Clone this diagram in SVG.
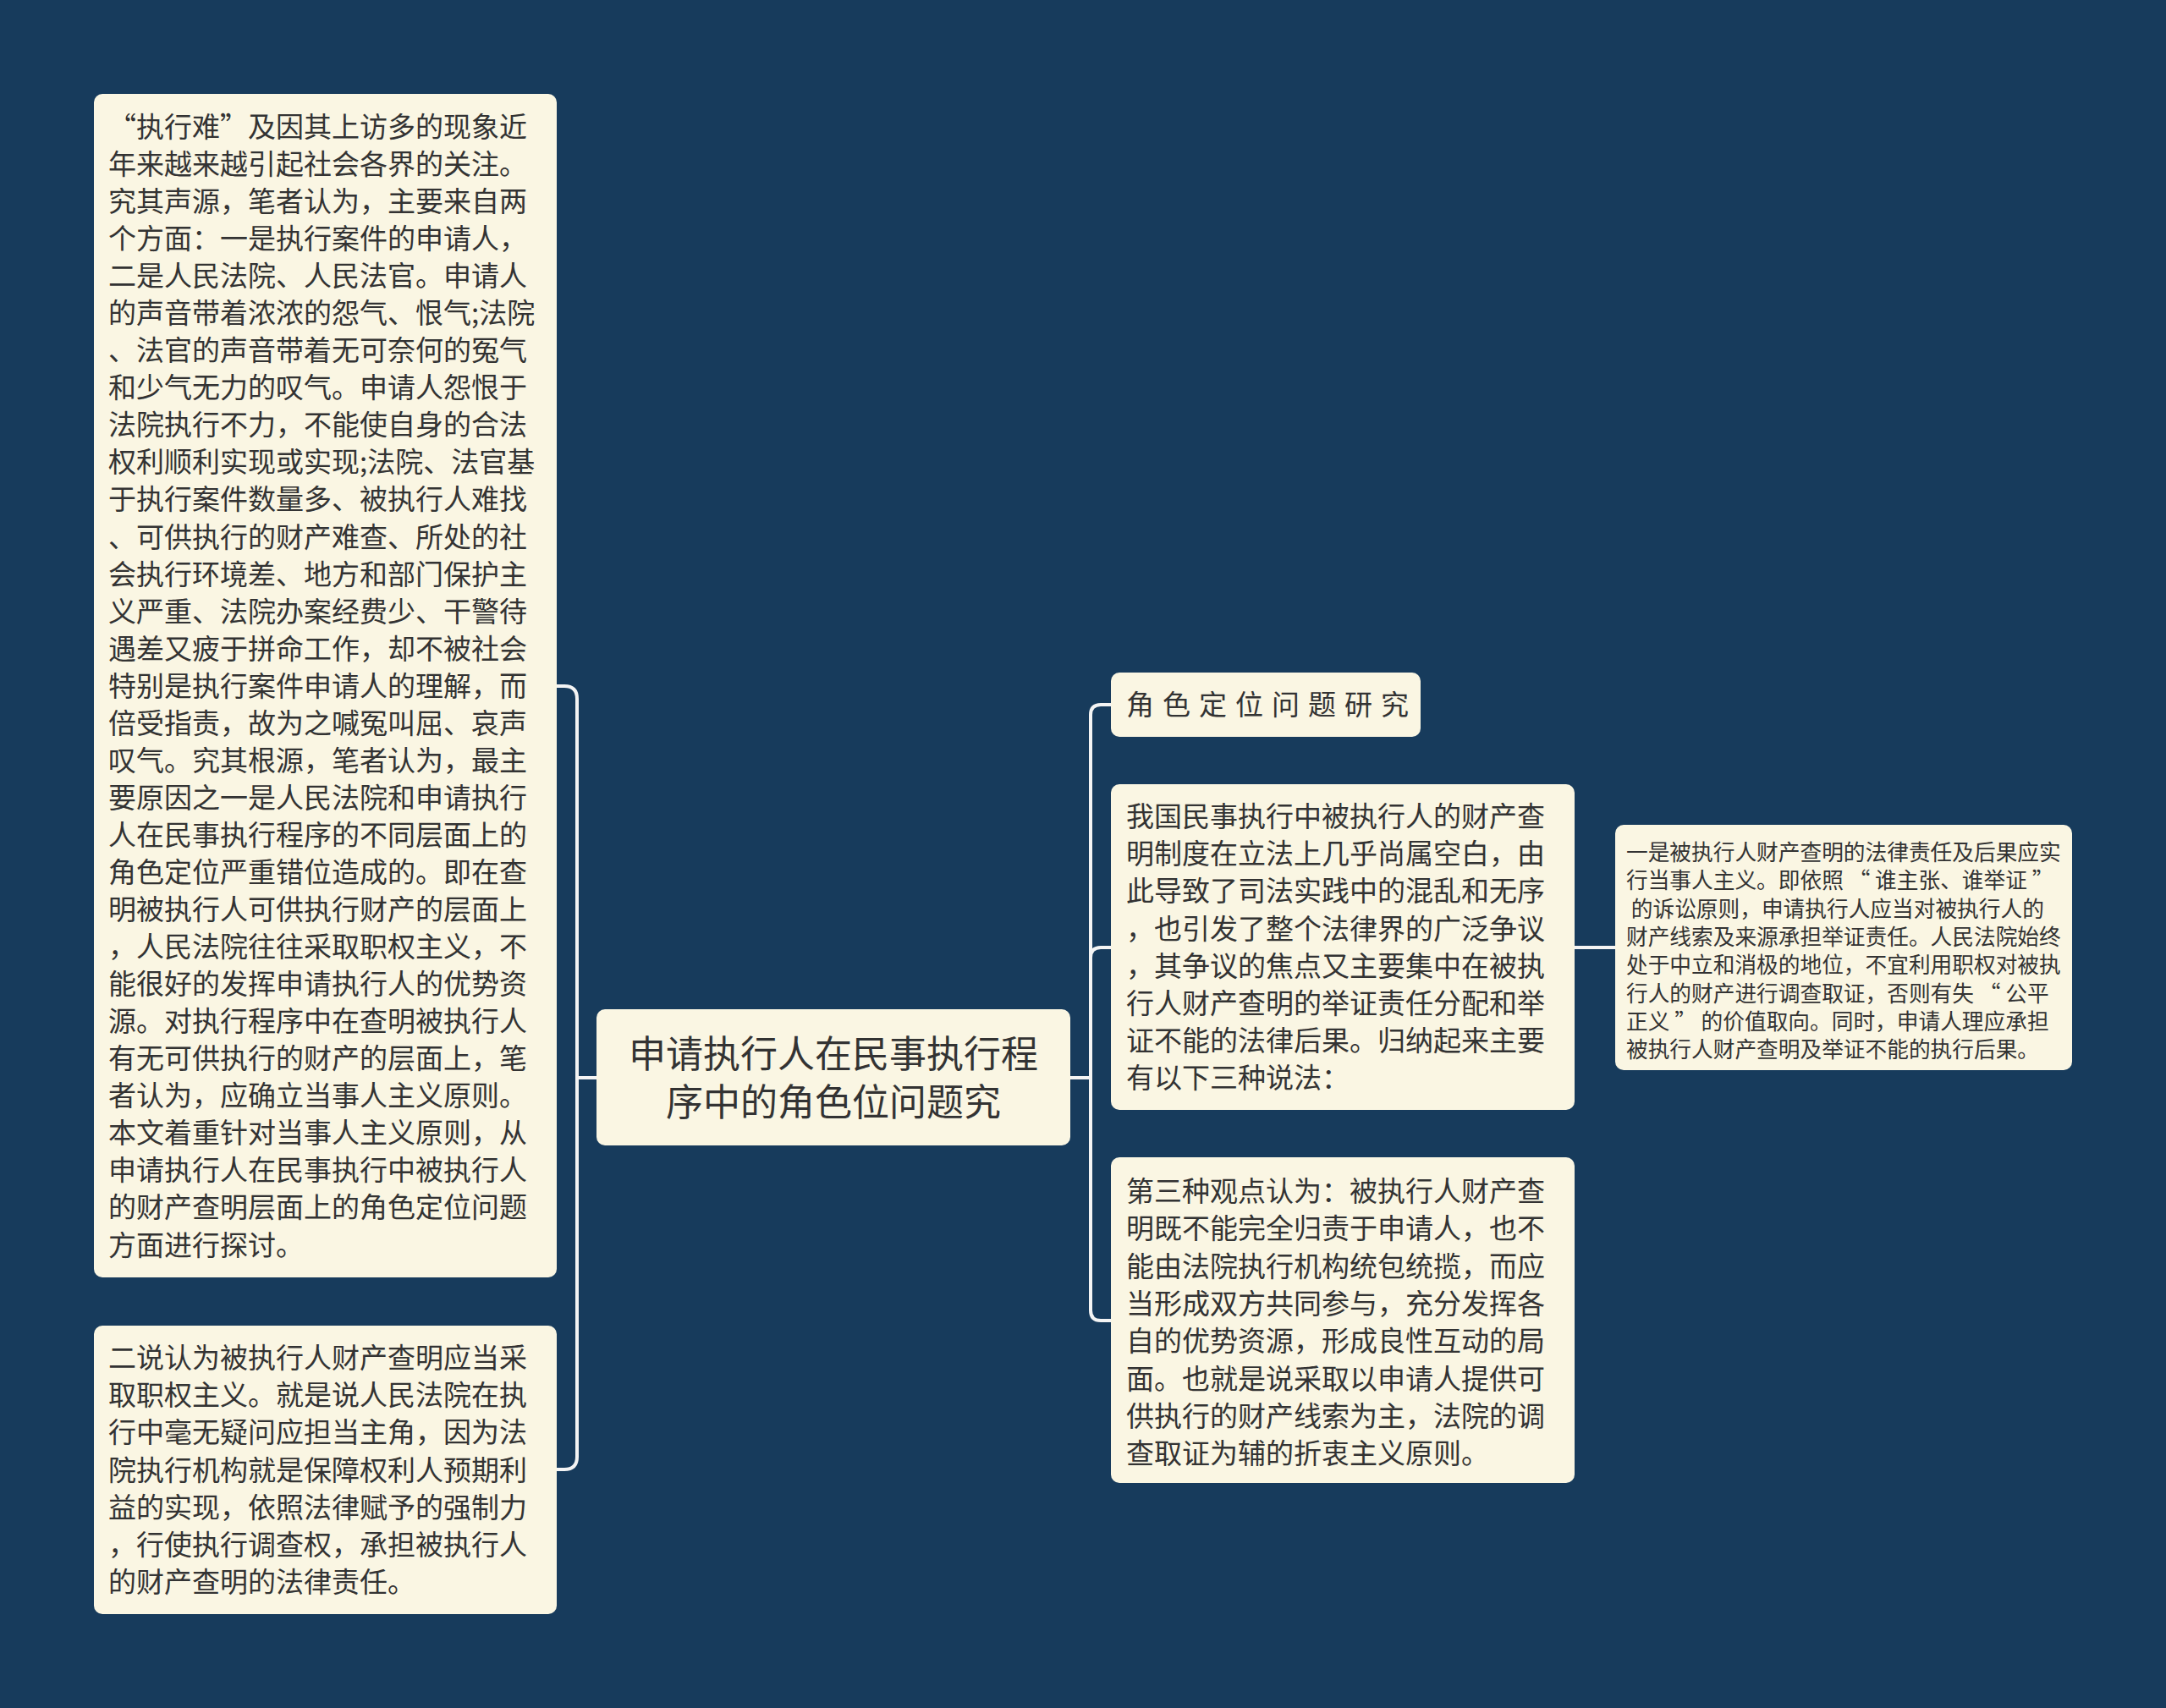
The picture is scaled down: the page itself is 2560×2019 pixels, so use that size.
<svg xmlns="http://www.w3.org/2000/svg" width="2560" height="2019" viewBox="0 0 2560 2019">
<style>
.bg{fill:#173b5c}
.box{fill:#faf6e3}
.t{font-family:"Noto Sans CJK SC","Noto Sans CJK TC",sans-serif;fill:#333333}
.t33{font-size:33px}
.t26{font-size:25.7px}
.t44{font-size:44px}
.link{fill:none;stroke:#f4f4f4;stroke-width:4;stroke-linecap:round}
</style>
<rect class="bg" x="0" y="0" width="2560" height="2019"/>
<g id="connectors">
<path class="link" d="M705,1274 H682"/>
<path class="link" d="M682,1274 V826 Q682,811 667,811 H658"/>
<path class="link" d="M682,1274 V1722 Q682,1737 667,1737 H658"/>
<path class="link" d="M1265,1274 H1289"/>
<path class="link" d="M1289,1274 V845 Q1289,833 1301,833 H1313"/>
<path class="link" d="M1289,1274 V1132 Q1289,1120 1301,1120 H1313"/>
<path class="link" d="M1289,1274 V1549 Q1289,1561 1301,1561 H1313"/>
<path class="link" d="M1861,1120 H1909"/>
</g>
<g id="root">
<rect class="box" x="705" y="1193" width="560" height="161" rx="10"/>
<text class="t t44" text-anchor="middle"><tspan x="985" y="1262">申请执行人在民事执行程</tspan><tspan x="985" y="1319">序中的角色位问题究</tspan></text>
</g>
<g id="left-main">
<rect class="box" x="111" y="111" width="547" height="1399" rx="10"/>
<text class="t t33" xml:space="preserve"><tspan x="128" y="162">“执行难”及因其上访多的现象近</tspan><tspan x="128" dy="44.05">年来越来越引起社会各界的关注。</tspan><tspan x="128" dy="44.05">究其声源，笔者认为，主要来自两</tspan><tspan x="128" dy="44.05">个方面：一是执行案件的申请人，</tspan><tspan x="128" dy="44.05">二是人民法院、人民法官。申请人</tspan><tspan x="128" dy="44.05">的声音带着浓浓的怨气、恨气;法院</tspan><tspan x="128" dy="44.05">、法官的声音带着无可奈何的冤气</tspan><tspan x="128" dy="44.05">和少气无力的叹气。申请人怨恨于</tspan><tspan x="128" dy="44.05">法院执行不力，不能使自身的合法</tspan><tspan x="128" dy="44.05">权利顺利实现或实现;法院、法官基</tspan><tspan x="128" dy="44.05">于执行案件数量多、被执行人难找</tspan><tspan x="128" dy="44.05">、可供执行的财产难查、所处的社</tspan><tspan x="128" dy="44.05">会执行环境差、地方和部门保护主</tspan><tspan x="128" dy="44.05">义严重、法院办案经费少、干警待</tspan><tspan x="128" dy="44.05">遇差又疲于拼命工作，却不被社会</tspan><tspan x="128" dy="44.05">特别是执行案件申请人的理解，而</tspan><tspan x="128" dy="44.05">倍受指责，故为之喊冤叫屈、哀声</tspan><tspan x="128" dy="44.05">叹气。究其根源，笔者认为，最主</tspan><tspan x="128" dy="44.05">要原因之一是人民法院和申请执行</tspan><tspan x="128" dy="44.05">人在民事执行程序的不同层面上的</tspan><tspan x="128" dy="44.05">角色定位严重错位造成的。即在查</tspan><tspan x="128" dy="44.05">明被执行人可供执行财产的层面上</tspan><tspan x="128" dy="44.05">，人民法院往往采取职权主义，不</tspan><tspan x="128" dy="44.05">能很好的发挥申请执行人的优势资</tspan><tspan x="128" dy="44.05">源。对执行程序中在查明被执行人</tspan><tspan x="128" dy="44.05">有无可供执行的财产的层面上，笔</tspan><tspan x="128" dy="44.05">者认为，应确立当事人主义原则。</tspan><tspan x="128" dy="44.05">本文着重针对当事人主义原则，从</tspan><tspan x="128" dy="44.05">申请执行人在民事执行中被执行人</tspan><tspan x="128" dy="44.05">的财产查明层面上的角色定位问题</tspan><tspan x="128" dy="44.05">方面进行探讨。</tspan></text>
</g>
<g id="left-second">
<rect class="box" x="111" y="1567" width="547" height="341" rx="10"/>
<text class="t t33"><tspan x="128" y="1617">二说认为被执行人财产查明应当采</tspan><tspan x="128" dy="44.2">取职权主义。就是说人民法院在执</tspan><tspan x="128" dy="44.2">行中毫无疑问应担当主角，因为法</tspan><tspan x="128" dy="44.2">院执行机构就是保障权利人预期利</tspan><tspan x="128" dy="44.2">益的实现，依照法律赋予的强制力</tspan><tspan x="128" dy="44.2">，行使执行调查权，承担被执行人</tspan><tspan x="128" dy="44.2">的财产查明的法律责任。</tspan></text>
</g>
<g id="right-title">
<rect class="box" x="1313" y="795" width="366" height="76" rx="10"/>
<text class="t t33" x="1331" y="845" xml:space="preserve" word-spacing="2.6">角 色 定 位 问 题 研 究</text>
</g>
<g id="right-first">
<rect class="box" x="1313" y="927" width="548" height="385" rx="10"/>
<text class="t t33"><tspan x="1331" y="977">我国民事执行中被执行人的财产查</tspan><tspan x="1331" dy="44.2">明制度在立法上几乎尚属空白，由</tspan><tspan x="1331" dy="44.2">此导致了司法实践中的混乱和无序</tspan><tspan x="1331" dy="44.2">，也引发了整个法律界的广泛争议</tspan><tspan x="1331" dy="44.2">，其争议的焦点又主要集中在被执</tspan><tspan x="1331" dy="44.2">行人财产查明的举证责任分配和举</tspan><tspan x="1331" dy="44.2">证不能的法律后果。归纳起来主要</tspan><tspan x="1331" dy="44.2">有以下三种说法：</tspan></text>
</g>
<g id="right-first-detail">
<rect class="box" x="1909" y="975" width="540" height="290" rx="10"/>
<text class="t t26" xml:space="preserve"><tspan x="1922" y="1017">一是被执行人财产查明的法律责任及后果应实</tspan><tspan x="1922" dy="33.3">行当事人主义。即依照 “ 谁主张、谁举证 ”</tspan><tspan x="1922" dy="33.3"> 的诉讼原则，申请执行人应当对被执行人的</tspan><tspan x="1922" dy="33.3">财产线索及来源承担举证责任。人民法院始终</tspan><tspan x="1922" dy="33.3">处于中立和消极的地位，不宜利用职权对被执</tspan><tspan x="1922" dy="33.3">行人的财产进行调查取证，否则有失 “ 公平</tspan><tspan x="1922" dy="33.3">正义 ” 的价值取向。同时，申请人理应承担</tspan><tspan x="1922" dy="33.3">被执行人财产查明及举证不能的执行后果。</tspan></text>
</g>
<g id="right-second">
<rect class="box" x="1313" y="1368" width="548" height="385" rx="10"/>
<text class="t t33"><tspan x="1331" y="1420">第三种观点认为：被执行人财产查</tspan><tspan x="1331" dy="44.3">明既不能完全归责于申请人，也不</tspan><tspan x="1331" dy="44.3">能由法院执行机构统包统揽，而应</tspan><tspan x="1331" dy="44.3">当形成双方共同参与，充分发挥各</tspan><tspan x="1331" dy="44.3">自的优势资源，形成良性互动的局</tspan><tspan x="1331" dy="44.3">面。也就是说采取以申请人提供可</tspan><tspan x="1331" dy="44.3">供执行的财产线索为主，法院的调</tspan><tspan x="1331" dy="44.3">查取证为辅的折衷主义原则。</tspan></text>
</g>
</svg>
